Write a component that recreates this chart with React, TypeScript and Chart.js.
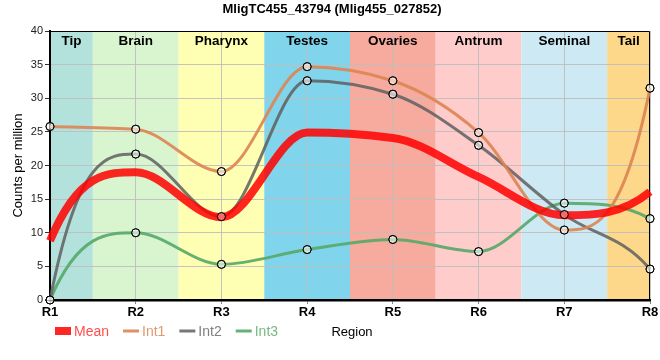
import React, { useEffect, useRef } from "react";
import { Chart, registerables } from "chart.js";

Chart.register(...registerables);

const FONT = "'Liberation Sans', Arial, sans-serif";

const titleText = "MligTC455_43794 (Mlig455_027852)";
const regions = ["R1", "R2", "R3", "R4", "R5", "R6", "R7", "R8"];
const regionNames = ["Tip", "Brain", "Pharynx", "Testes", "Ovaries", "Antrum", "Seminal", "Tail"];
const regionColors = ["#b3e2dd", "#d8f5d0", "#ffffb3", "#80d4eb", "#f6ab9e", "#ffcccc", "#cdeaf4", "#fdd88a"];

const meanValues = [8.8, 19.0, 12.3, 24.9, 24.1, 18.3, 12.6, 16.1];
const int1Values = [25.8, 25.4, 19.1, 34.7, 32.6, 24.9, 10.4, 31.5];
const int2Values = [0, 21.7, 12.4, 32.6, 30.6, 23.0, 12.7, 4.6];
const int3Values = [0, 10.0, 5.3, 7.5, 9.0, 7.2, 14.4, 12.1];

const seriesNames = ["Mean", "Int1", "Int2", "Int3"];
const seriesColors = ["rgba(255,0,0,0.85)", "rgba(221,132,82,0.9)", "rgba(95,95,95,0.85)", "rgba(85,168,104,0.9)"];
const legendTextColors = ["#ff4d4d", "#e09a6e", "#808080", "#77b986"];

const yTitle = "Counts per million";
const xTitle = "Region";

// monotone-x style tangents applied to Chart.js bezier control points
function sgn(x: number) { return x < 0 ? -1 : 1; }
function applyMonotoneX(pts: any[]) {
  const n = pts.length;
  if (n < 3) return;
  const t: number[] = new Array(n).fill(0);
  for (let i = 1; i < n - 1; i++) {
    const h0 = pts[i].x - pts[i - 1].x;
    const h1 = pts[i + 1].x - pts[i].x;
    const s0 = (pts[i].y - pts[i - 1].y) / h0;
    const s1 = (pts[i + 1].y - pts[i].y) / h1;
    const p = (s0 * h1 + s1 * h0) / (h0 + h1);
    t[i] = (sgn(s0) + sgn(s1)) * Math.min(Math.abs(s0), Math.abs(s1), 0.5 * Math.abs(p)) || 0;
  }
  {
    const h = pts[1].x - pts[0].x;
    t[0] = 3 * (pts[1].y - pts[0].y) / h - t[1];
  }
  {
    const h = pts[n - 1].x - pts[n - 2].x;
    t[n - 1] = 3 * (pts[n - 1].y - pts[n - 2].y) / h - t[n - 2];
  }
  for (let i = 0; i < n; i++) {
    const p = pts[i];
    const dxPrev = i > 0 ? (p.x - pts[i - 1].x) / 3 : 0;
    const dxNext = i < n - 1 ? (pts[i + 1].x - p.x) / 3 : 0;
    p.cp1x = p.x - dxPrev;
    p.cp1y = p.y - dxPrev * t[i];
    p.cp2x = p.x + dxNext;
    p.cp2y = p.y + dxNext * t[i];
  }
}

const decorPlugin = {
  id: "decor",
  beforeDraw(chart: any) {
    const { ctx, chartArea, scales } = chart;
    const xs = scales.x;
    const n = regions.length;
    const px = (i: number) => xs.getPixelForValue(i);
    ctx.save();
    for (let i = 0; i < n; i++) {
      const l = i === 0 ? chartArea.left : (px(i - 1) + px(i)) / 2;
      const r = i === n - 1 ? chartArea.right : (px(i) + px(i + 1)) / 2;
      ctx.fillStyle = regionColors[i];
      ctx.fillRect(l, chartArea.top, r - l, chartArea.bottom - chartArea.top);
    }
    ctx.restore();
  },
  beforeDatasetsDraw(chart: any) {
    const { ctx, chartArea, scales } = chart;
    chart.data.datasets.forEach((_ds: any, i: number) => {
      const meta = chart.getDatasetMeta(i);
      if (meta.dataset && meta.data.length > 2) {
        applyMonotoneX(meta.data);
        meta.dataset._pointsUpdated = true;
        meta.dataset._path = undefined;
      }
    });
    const xs = scales.x;
    const n = regions.length;
    const px = (i: number) => xs.getPixelForValue(i);
    ctx.save();
    ctx.fillStyle = "#000";
    ctx.font = `bold 13.5px ${FONT}`;
    ctx.textAlign = "center";
    ctx.textBaseline = "middle";
    for (let i = 0; i < n; i++) {
      const l = i === 0 ? chartArea.left : (px(i - 1) + px(i)) / 2;
      const r = i === n - 1 ? chartArea.right : (px(i) + px(i + 1)) / 2;
      ctx.fillText(regionNames[i], (l + r) / 2, chartArea.top + 10);
    }
    ctx.strokeStyle = "#000";
    ctx.lineWidth = 1;
    ctx.beginPath();
    ctx.moveTo(chartArea.left, chartArea.top + 0.5);
    ctx.lineTo(chartArea.right - 0.5, chartArea.top + 0.5);
    ctx.lineTo(chartArea.right - 0.5, chartArea.bottom);
    ctx.stroke();
    ctx.restore();
  },
  afterDatasetsDraw(chart: any) {
    const { ctx, chartArea } = chart;
    chart.data.datasets.forEach((ds: any, i: number) => {
      if (!ds.pointRadius) return;
      const meta = chart.getDatasetMeta(i);
      meta.data.forEach((p: any) => p.draw(ctx, chartArea));
    });
  },
  afterDraw(chart: any) {
    const { ctx, width } = chart;
    ctx.save();
    ctx.fillStyle = "#000";
    ctx.font = `bold 13px ${FONT}`;
    ctx.textAlign = "center";
    ctx.textBaseline = "middle";
    ctx.fillText(titleText, width / 2 + 2, 9);
    const y = 331;
    let x = 55;
    ctx.font = `14px ${FONT}`;
    ctx.textAlign = "left";
    chart.data.datasets.forEach((ds: any, i: number) => {
      if (i === 0) {
        ctx.fillStyle = ds.borderColor;
        ctx.fillRect(x, y - 4, 16, 8);
      } else {
        ctx.strokeStyle = ds.borderColor;
        ctx.lineWidth = 3;
        ctx.beginPath();
        ctx.moveTo(x, y);
        ctx.lineTo(x + 16, y);
        ctx.stroke();
      }
      x += 19;
      ctx.fillStyle = legendTextColors[i];
      ctx.fillText(ds.label, x, y + 1);
      x += ctx.measureText(ds.label).width + 14;
    });
    ctx.fillStyle = "#000";
    ctx.font = `13px ${FONT}`;
    ctx.textAlign = "center";
    ctx.fillText(xTitle, 352, y + 1);
    ctx.restore();
  },
};

const App = () => {
  const ref = useRef<HTMLCanvasElement>(null);
  useEffect(() => {
    if (!ref.current) return;
    Chart.defaults.font.family = FONT;
    const seriesValues = [meanValues, int1Values, int2Values, int3Values];
    const datasets = seriesValues.map((vals, i) => ({
      label: seriesNames[i],
      data: vals,
      borderColor: seriesColors[i],
      backgroundColor: seriesColors[i],
      borderWidth: i === 0 ? 8 : 3,
      cubicInterpolationMode: "monotone" as const,
      pointRadius: i === 0 ? 0 : 4,
      pointHoverRadius: i === 0 ? 0 : 4,
      pointBackgroundColor: "rgba(255,255,255,0.35)",
      pointBorderColor: "#000",
      pointBorderWidth: 1,
      order: i === 0 ? 0 : i,
      fill: false,
    }));
    const chart = new Chart(ref.current, {
      type: "line",
      data: { labels: regions, datasets },
      plugins: [decorPlugin],
      options: {
        responsive: false,
        animation: false,
        layout: { padding: { top: 31, left: 0, right: 10, bottom: 0 } },
        plugins: {
          legend: { display: false },
          title: { display: false },
          tooltip: { enabled: false },
        },
        scales: {
          x: {
            type: "category",
            offset: false,
            grid: { color: "rgba(190,190,190,0.9)", tickLength: 4, tickColor: "#888" },
            border: { display: true, color: "#000", width: 2.5 },
            ticks: { color: "#000", font: { size: 13, weight: "bold" }, padding: 1, maxRotation: 0, autoSkip: false },
            afterFit: (s: any) => { s.height = 60; },
          },
          y: {
            min: 0,
            max: 40,
            ticks: { stepSize: 5, color: "#222", font: { size: 11 }, padding: 2 },
            grid: { color: "rgba(190,190,190,0.9)", tickLength: 5, tickColor: "#333" },
            border: { display: true, color: "#000", width: 2 },
            title: { display: true, text: yTitle, color: "#000", font: { size: 13 }, padding: { top: 11, bottom: 0 } },
            afterFit: (s: any) => { s.width = 50; },
          },
        },
      },
    } as any);
    return () => chart.destroy();
  }, []);
  return (
    <div style={{ position: "absolute", left: 0, top: 0, width: 660, height: 360 }}>
      <canvas ref={ref} width={660} height={360} />
    </div>
  );
};

export default App;
